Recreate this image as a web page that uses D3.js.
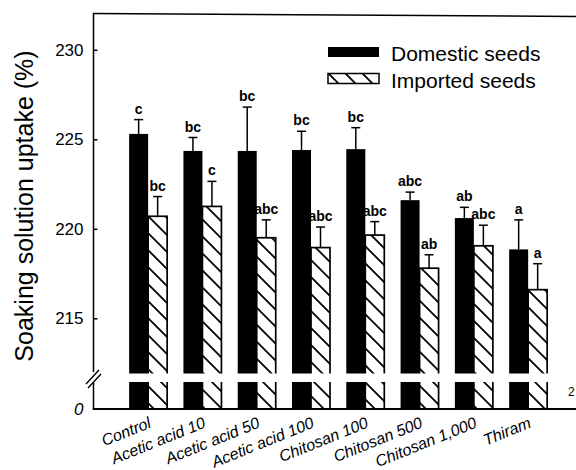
<!DOCTYPE html>
<html><head><meta charset="utf-8">
<script src="https://cdn.jsdelivr.net/npm/d3@7"></script>
<style>body{margin:0;background:#fff}svg{display:block}text{font-family:"Liberation Sans",Arial,sans-serif;fill:#000}</style>
</head><body><svg id="c" width="576" height="470"></svg>
<script>
const categories = ["Control","Acetic acid 10","Acetic acid 50","Acetic acid 100","Chitosan 100","Chitosan 500","Chitosan 1,000","Thiram"];
const domestic = [225.3, 224.35, 224.35, 224.4, 224.45, 221.6, 220.6, 218.85];
const domesticErr = [0.8, 0.75, 2.45, 1.05, 1.2, 0.45, 0.6, 1.65];
const imported = [220.7, 221.25, 219.5, 218.95, 219.65, 217.8, 219.05, 216.6];
const importedErr = [1.1, 1.4, 1.0, 1.15, 0.75, 0.75, 1.15, 1.45];
const domesticLetters = ["c","bc","bc","bc","bc","abc","ab","a"];
const importedLetters = ["bc","c","abc","abc","abc","ab","abc","a"];
const seriesNames = ["Domestic seeds","Imported seeds"];
const yTicks = [215,220,225,230];
const yLowTicks = [0];
const yLabel = "Soaking solution uptake (%)";

const svg = d3.select("#c");
const axisX = 93.5, bottomY = 409, topY = 14, breakTop = 373.5, breakBot = 382, rightX = 576;
const y = d3.scaleLinear().domain([212,232]).range([372, topY]);
const yLow = d3.scaleLinear().domain([0,1]).range([bottomY, breakBot]);
const x = d3.scaleBand().domain(categories).range([121,555.3]).paddingInner(0.3).paddingOuter(0.15);
const sub = d3.scaleBand().domain(seriesNames).range([0, x.bandwidth()]);

const defs = svg.append("defs");
const P = 17;
const pat = defs.append("pattern").attr("id","hatch").attr("patternUnits","userSpaceOnUse")
  .attr("width",P).attr("height",P);
pat.append("rect").attr("width",P).attr("height",P).attr("fill","#fff");
pat.append("path").attr("d",`M0,0L${P},${P}M-4,${P-4}L4,${P+4}M${P-4},-4L${P+4},4`).attr("stroke","#000").attr("stroke-width",1.8);

// bars
const series = [
  {name: seriesNames[0], vals: domestic, err: domesticErr, letters: domesticLetters},
  {name: seriesNames[1], vals: imported, err: importedErr, letters: importedLetters}
];
series.forEach((s, si) => {
  const g = svg.append("g");
  categories.forEach((c, i) => {
    const x0 = x(c) + sub(s.name);
    const v = s.vals[i];
    g.append("rect").attr("x", x0).attr("y", y(v)).attr("width", sub.bandwidth())
      .attr("height", bottomY - y(v))
      .attr("fill", si === 0 ? "#000" : "url(#hatch)")
      .attr("stroke", "#000").attr("stroke-width", si === 0 ? 0 : 1.7);
    const cx = x0 + sub.bandwidth()/2;
    const top = y(v + s.err[i]);
    g.append("line").attr("x1",cx).attr("x2",cx).attr("y1",y(v)).attr("y2",top).attr("stroke","#000").attr("stroke-width",1.5);
    g.append("line").attr("x1",cx-4.5).attr("x2",cx+4.5).attr("y1",top).attr("y2",top).attr("stroke","#000").attr("stroke-width",1.5);
    g.append("text").attr("x",cx).attr("y",top-6).attr("text-anchor","middle")
      .attr("font-size",14).attr("font-weight","bold").text(s.letters[i]);
  });
});

// break gap
svg.append("rect").attr("x", axisX+1).attr("y", breakTop).attr("width", rightX-axisX).attr("height", breakBot-breakTop).attr("fill","#fff");

// axes lines
svg.append("line").attr("x1",axisX).attr("x2",axisX).attr("y1",topY).attr("y2",breakTop-1.5).attr("stroke","#000").attr("stroke-width",1.5);
svg.append("line").attr("x1",axisX).attr("x2",axisX).attr("y1",breakBot).attr("y2",bottomY).attr("stroke","#000").attr("stroke-width",1.5);
svg.append("line").attr("x1",axisX-0.75).attr("x2",rightX).attr("y1",bottomY).attr("y2",bottomY).attr("stroke","#000").attr("stroke-width",1.8);
svg.append("line").attr("x1",axisX-0.75).attr("x2",rightX).attr("y1",topY-0.5).attr("y2",topY+2.5).attr("stroke","#000").attr("stroke-width",1.5);
// break slashes
svg.append("path").attr("d","M86,384L99,370M88,388L101,374").attr("stroke","#000").attr("stroke-width",1.4).attr("fill","none");

const yAxis = d3.axisLeft(y).tickValues(yTicks).tickSizeInner(-4).tickSizeOuter(0).tickPadding(10);
const ga = svg.append("g").attr("transform",`translate(${axisX},0)`).call(yAxis);
ga.select(".domain").remove();
ga.selectAll(".tick line").attr("stroke","#000").attr("stroke-width",1.5);
ga.selectAll(".tick text").attr("font-size",17).attr("font-family",null).attr("fill","#000");

const yAxisLow = d3.axisLeft(yLow).tickValues(yLowTicks).tickFormat(d3.format("d")).tickSizeInner(0).tickSizeOuter(0).tickPadding(10);
const gl = svg.append("g").attr("transform",`translate(${axisX},0)`).call(yAxisLow);
gl.select(".domain").remove();
gl.selectAll(".tick text").attr("font-size",17).attr("font-family",null).attr("font-style","italic").attr("fill","#000");

// y label
svg.append("text").attr("transform","translate(33,206) rotate(-90)").attr("text-anchor","middle")
  .attr("font-size",25).text(yLabel);

// x labels
categories.forEach(c => {
  svg.append("text").attr("transform",`translate(${x(c)+x.bandwidth()/2+4},427) rotate(-22)`)
    .attr("text-anchor","end").attr("font-size",16).attr("font-style","italic").text(c);
});

// legend
const leg = svg.append("g");
seriesNames.forEach((n, i) => {
  const yy = 47 + i*26.5;
  leg.append("rect").attr("x",328).attr("y",yy).attr("width",51).attr("height",10)
    .attr("fill", i === 0 ? "#000" : "url(#hatch)").attr("stroke","#000").attr("stroke-width", i===0?0:1.5);
  leg.append("text").attr("x",391).attr("y",yy+14).attr("font-size",21).text(n);
});

// fragment at right edge
svg.append("text").attr("x",568).attr("y",396).attr("font-size",12).text("2");
</script></body></html>
